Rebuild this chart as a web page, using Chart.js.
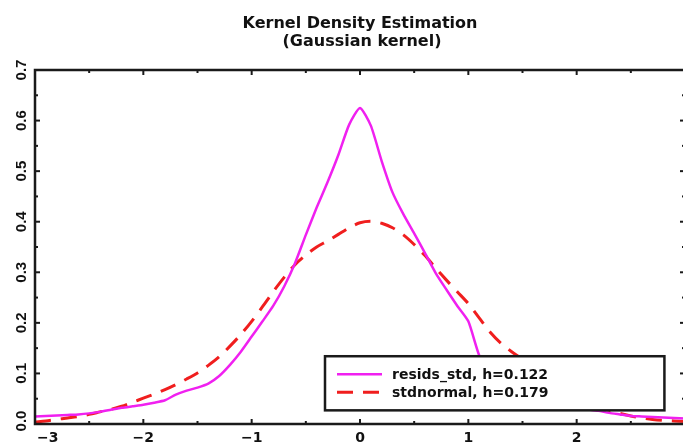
<!DOCTYPE html>
<html><head><meta charset="utf-8">
<script src="https://cdn.jsdelivr.net/npm/chart.js@4.4.1/dist/chart.umd.min.js"></script>
<style>html,body{margin:0;padding:0;overflow:hidden;background:#fff;width:683px;height:444px}canvas{display:block}</style>
</head><body>
<canvas id="c" width="687" height="444" style="width:687px;height:444px"></canvas>
<script>
const xGrid = [-3.0,-2.9,-2.8,-2.7,-2.6,-2.5,-2.4,-2.3,-2.2,-2.1,-2.0,-1.9,-1.8,-1.7,-1.6,-1.5,-1.4,-1.3,-1.2,-1.1,-1.0,-0.9,-0.8,-0.7,-0.6,-0.5,-0.4,-0.3,-0.2,-0.1,0.0,0.1,0.2,0.3,0.4,0.5,0.6,0.7,0.8,0.9,1.0,1.1,1.2,1.3,1.4,1.5,1.6,1.7,1.8,1.9,2.0,2.1,2.2,2.3,2.4,2.5,2.6,2.7,2.8,2.9,3.0];
const residsStd = [0.015,0.016,0.017,0.018,0.019,0.021,0.024,0.028,0.032,0.035,0.038,0.042,0.047,0.058,0.066,0.072,0.080,0.095,0.117,0.143,0.173,0.203,0.234,0.272,0.318,0.374,0.428,0.478,0.532,0.592,0.625,0.590,0.520,0.458,0.415,0.377,0.338,0.298,0.265,0.233,0.203,0.136,0.102,0.081,0.066,0.055,0.047,0.042,0.038,0.035,0.032,0.029,0.026,0.022,0.019,0.016,0.015,0.014,0.013,0.012,0.011];
const stdNormal = [0.004,0.006,0.009,0.012,0.015,0.019,0.024,0.029,0.035,0.043,0.051,0.059,0.068,0.078,0.089,0.101,0.116,0.133,0.154,0.177,0.203,0.232,0.262,0.290,0.315,0.334,0.350,0.362,0.375,0.388,0.398,0.401,0.397,0.388,0.374,0.355,0.333,0.308,0.284,0.261,0.238,0.210,0.182,0.160,0.143,0.128,0.112,0.096,0.081,0.067,0.054,0.043,0.034,0.027,0.021,0.016,0.012,0.009,0.007,0.006,0.005];
const xTickValues = [-3,-2,-1,0,1,2,3];
const xTickLabels = ['\u22123','\u22122','\u22121','0','1','2',''];
const xMinorValues = [-2.5,-1.5,-0.5,0.5,1.5,2.5];
const yTickValues = [0,0.1,0.2,0.3,0.4,0.5,0.6,0.7];
const yTickLabels = ['0.0','0.1','0.2','0.3','0.4','0.5','0.6','0.7'];
const yMinorValues = [0.05,0.15,0.25,0.35,0.45,0.55,0.65];
const titleLines = ['Kernel Density Estimation','(Gaussian kernel)'];
const seriesNames = ['resids_std, h=0.122','stdnormal, h=0.179'];

const MAGENTA = '#f020f0';
const RED = '#f01e1e';
const DASH = [16, 10];

const idlPlugin = {
  id: 'idl',
  afterDatasetsDraw(chart) {
    const ctx = chart.ctx;
    const xs = chart.scales.x, ys = chart.scales.y;
    const lx0 = xs.getPixelForValue(0.0) - 35, lx1 = xs.getPixelForValue(2.81);
    const ly0 = ys.getPixelForValue(0.134), ly1 = ys.getPixelForValue(0.027);
    ctx.save();
    ctx.fillStyle = '#fff';
    ctx.fillRect(lx0, ly0, lx1 - lx0, ly1 - ly0);
    ctx.lineWidth = 2.5;
    ctx.strokeStyle = '#1a1a1a';
    ctx.strokeRect(lx0, ly0, lx1 - lx0, ly1 - ly0);
    const ds = chart.data.datasets;
    const rows = [ly0 + 18, ly0 + 36];
    ds.forEach((d, i) => {
      ctx.beginPath();
      ctx.strokeStyle = d.borderColor;
      ctx.lineWidth = d.borderWidth;
      ctx.setLineDash(d.borderDash || []);
      ctx.moveTo(lx0 + 12, rows[i]);
      ctx.lineTo(lx0 + 57, rows[i]);
      ctx.stroke();
      ctx.setLineDash([]);
      ctx.fillStyle = '#111';
      ctx.font = 'bold 14px "DejaVu Sans"';
      ctx.textAlign = 'left';
      ctx.textBaseline = 'middle';
      ctx.fillText(d.label, lx0 + 67, rows[i] + 1);
    });
    ctx.restore();
  },
  afterDraw(chart) {
    const ctx = chart.ctx;
    const a = chart.chartArea;
    const xs = chart.scales.x, ys = chart.scales.y;
    ctx.save();
    ctx.strokeStyle = '#1a1a1a';
    ctx.lineWidth = 2.5;
    ctx.strokeRect(a.left, a.top, a.right - a.left, a.bottom - a.top);
    ctx.lineWidth = 2;
    const tick = (x1, y1, x2, y2) => { ctx.beginPath(); ctx.moveTo(x1, y1); ctx.lineTo(x2, y2); ctx.stroke(); };
    xTickValues.forEach(v => { const p = xs.getPixelForValue(v); tick(p, a.bottom, p, a.bottom - 5); tick(p, a.top, p, a.top + 5); });
    xMinorValues.forEach(v => { const p = xs.getPixelForValue(v); tick(p, a.bottom, p, a.bottom - 3); tick(p, a.top, p, a.top + 3); });
    yTickValues.forEach(v => { const p = ys.getPixelForValue(v); tick(a.left, p, a.left + 5, p); tick(a.right, p, a.right - 5, p); });
    yMinorValues.forEach(v => { const p = ys.getPixelForValue(v); tick(a.left, p, a.left + 3, p); tick(a.right, p, a.right - 3, p); });
    ctx.fillStyle = '#111';
    ctx.font = 'bold 14px "DejaVu Sans"';
    ctx.textBaseline = 'middle';
    xTickValues.forEach((v, i) => {
      const p = xs.getPixelForValue(v);
      if (i === 0) { ctx.textAlign = 'left'; ctx.fillText(xTickLabels[i], p + 2, 438); }
      else { ctx.textAlign = 'center'; ctx.fillText(xTickLabels[i], p, 438); }
    });
    ctx.font = 'bold 15px "Liberation Sans"';
    yTickValues.forEach((v, i) => {
      const p = ys.getPixelForValue(v);
      ctx.save();
      ctx.translate(22, v === 0 ? p - 3 : p);
      ctx.rotate(-Math.PI / 2);
      ctx.textAlign = 'center';
      ctx.textBaseline = 'middle';
      ctx.fillText(yTickLabels[i], 0, 0);
      ctx.restore();
    });
    const cx = (a.left + a.right) / 2;
    ctx.font = 'bold 16px "DejaVu Sans"';
    ctx.textAlign = 'center';
    ctx.textBaseline = 'alphabetic';
    ctx.fillText(titleLines[0], cx, 28);
    ctx.fillText(titleLines[1], cx + 2, 46);
    ctx.restore();
  }
};

new Chart(document.getElementById('c'), {
  type: 'line',
  data: {
    datasets: [
      { label: seriesNames[0], data: xGrid.map((x, i) => ({ x, y: residsStd[i] })), borderColor: MAGENTA, borderWidth: 2.5, pointRadius: 0, tension: 0.2, fill: false },
      { label: seriesNames[1], data: xGrid.map((x, i) => ({ x, y: stdNormal[i] })), borderColor: RED, borderWidth: 3, borderDash: DASH, pointRadius: 0, tension: 0.3, fill: false }
    ]
  },
  options: {
    responsive: false,
    devicePixelRatio: 1,
    animation: false,
    layout: { padding: { left: 35, top: 70, right: 2, bottom: 20 } },
    plugins: { legend: { display: false }, title: { display: false }, tooltip: { enabled: false } },
    scales: {
      x: { type: 'linear', min: -3, max: 3, display: false },
      y: { type: 'linear', min: 0, max: 0.7, display: false }
    }
  },
  plugins: [idlPlugin]
});
</script>
</body></html>
